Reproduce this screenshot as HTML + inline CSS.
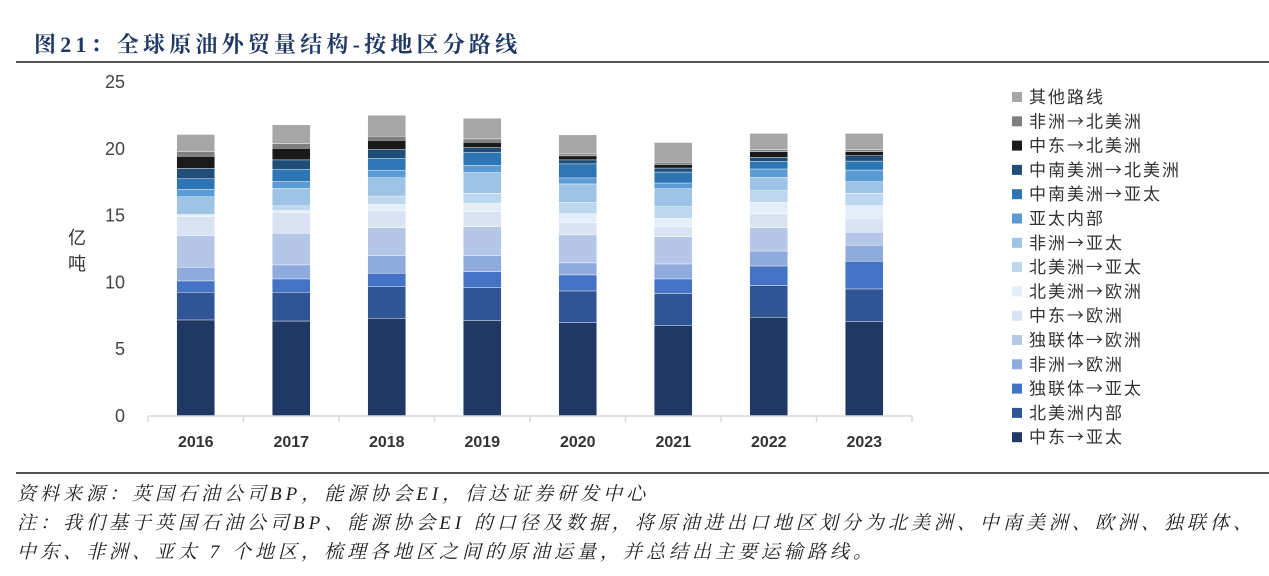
<!DOCTYPE html>
<html><head><meta charset="utf-8">
<style>
html,body{margin:0;padding:0;background:#fff;}
body{width:1269px;height:576px;position:relative;overflow:hidden;font-family:"Liberation Sans","Noto Sans CJK SC",sans-serif;}
#title{position:absolute;left:34px;top:28px;font-size:22px;font-weight:bold;color:#1f3864;font-family:"Liberation Serif","Noto Serif CJK SC",serif;letter-spacing:4.2px;white-space:nowrap;}
.rule{position:absolute;left:16px;width:1253px;height:2px;background:#555;}
.foot{position:absolute;left:17px;font-size:19px;font-style:italic;color:#222;font-family:"Liberation Serif","Noto Serif CJK SC",serif;white-space:nowrap;letter-spacing:4px;}
</style></head><body>
<div id="title">图21：全球原油外贸量结构-按地区分路线</div>
<div class="rule" style="top:61px"></div>
<svg id="chart" width="1269" height="576" style="position:absolute;left:0;top:0"></svg>
<div class="rule" style="top:472px"></div>
<div class="foot" style="top:479px">资料来源：英国石油公司BP，能源协会EI，信达证券研发中心</div>
<div class="foot" style="top:508px">注：我们基于英国石油公司BP、能源协会EI 的口径及数据，将原油进出口地区划分为北美洲、中南美洲、欧洲、独联体、</div>
<div class="foot" style="top:537px">中东、非洲、亚太 7 个地区，梳理各地区之间的原油运量，并总结出主要运输路线。</div>
<script>
const years = ["2016","2017","2018","2019","2020","2021","2022","2023"];
const seriesNames = ["中东→亚太","北美洲内部","独联体→亚太","非洲→欧洲","独联体→欧洲","中东→欧洲","北美洲→欧洲","北美洲→亚太","非洲→亚太","亚太内部","中南美洲→亚太","中南美洲→北美洲","中东→北美洲","非洲→北美洲","其他路线"];
const s0 = [7.19,7.11,7.31,7.14,6.99,6.76,7.39,7.06];
const s1 = [2.07,2.15,2.37,2.47,2.37,2.40,2.37,2.45];
const s2 = [0.85,1.00,1.00,1.20,1.20,1.10,1.47,2.07];
const s3 = [1.03,1.05,1.32,1.20,0.90,1.12,1.12,1.20];
const s4 = [2.37,2.37,2.10,2.17,2.10,2.05,1.75,0.97];
const s5 = [1.40,1.55,1.27,1.12,0.92,0.75,1.05,1.05];
const s6 = [0.10,0.15,0.47,0.62,0.67,0.62,0.85,0.95];
const s7 = [0.10,0.35,0.62,0.75,0.85,0.87,0.87,0.92];
const s8 = [1.30,1.30,1.37,1.55,1.37,1.35,1.00,0.87];
const s9 = [0.55,0.52,0.57,0.55,0.45,0.42,0.62,0.87];
const s10 = [0.80,0.92,0.87,0.95,1.05,0.82,0.57,0.67];
const s11 = [0.77,0.70,0.67,0.37,0.30,0.30,0.30,0.40];
const s12 = [0.92,0.87,0.70,0.40,0.30,0.27,0.42,0.30];
const s13 = [0.35,0.35,0.30,0.25,0.15,0.17,0.17,0.17];
const s14 = [1.27,1.40,1.57,1.55,1.42,1.47,1.20,1.20];
const series = [s0,s1,s2,s3,s4,s5,s6,s7,s8,s9,s10,s11,s12,s13,s14];
const yTicks = [0,5,10,15,20,25];
const colors = ["#203864","#2f5597","#4472c4","#8faadc","#b4c7e7","#dae3f3","#e4eef8","#bdd7ee","#9dc3e6","#5b9bd5","#2e75b6","#1f4e79","#1a1a1a","#7f7f7f","#a6a6a6"];

const NS="http://www.w3.org/2000/svg";
const svg=document.getElementById('chart');
const x0=148, x1=912, y0=416, yTop=82, maxV=25;
const band=(x1-x0)/years.length, bw=38;
const yS=v=>y0-(v/maxV)*(y0-yTop);
const xC=i=>x0+band*(i+0.5);
function mk(t,a){const e=document.createElementNS(NS,t);for(const k in a)e.setAttribute(k,a[k]);svg.appendChild(e);return e;}

yTicks.forEach(t=>{
  const e=mk('text',{x:125,y:yS(t)+6,'text-anchor':'end','font-size':18,fill:'#444'});
  e.textContent=t;
  
  
});
const yt=mk('text',{x:77,y:244,'text-anchor':'middle','font-size':18,fill:'#333','font-family':'"Noto Sans CJK SC",sans-serif'});
yt.textContent='亿';


const yt2=mk('text',{x:77,y:270,'text-anchor':'middle','font-size':18,fill:'#333','font-family':'"Noto Sans CJK SC",sans-serif'});
yt2.textContent='吨';



years.forEach((yr,i)=>{
  let cum=0;
  series.forEach((s,k)=>{
    const v=s[i];
    const r=mk('rect',{x:xC(i)-bw/2,y:yS(cum+v),width:bw,height:yS(cum)-yS(cum+v),fill:colors[k],stroke:'#fff','stroke-width':0.4});
    
    
    cum+=v;
  });
  const l=mk('text',{x:xC(i),y:447,'text-anchor':'middle','font-size':16,'font-weight':'bold',fill:'#333'});
  l.textContent=yr;
  
  
});
const ax=mk('line',{x1:x0,y1:y0,x2:x1,y2:y0,stroke:'#d9d9d9','stroke-width':1.5});


for(let i=0;i<=years.length;i++){
  const t=mk('line',{x1:x0+band*i,y1:y0,x2:x0+band*i,y2:y0+6,stroke:'#d9d9d9','stroke-width':1.5});
  
  
}
for(let k=series.length-1;k>=0;k--){
  const idx=series.length-1-k;
  const y=97+idx*24.3;
  const g=mk('g',{});
  
  
  const r=document.createElementNS(NS,'rect');
  r.setAttribute('x',1012);r.setAttribute('y',y-5);r.setAttribute('width',10);r.setAttribute('height',10);r.setAttribute('fill',colors[k]);
  g.appendChild(r);
  const t=document.createElementNS(NS,'text');
  t.setAttribute('x',1029);t.setAttribute('y',y+6);t.setAttribute('font-size',17);t.setAttribute('fill','#333');
  t.setAttribute('letter-spacing','2');
  t.setAttribute('font-family','"Noto Sans CJK SC",sans-serif');
  t.textContent=seriesNames[k];
  g.appendChild(t);
}
</script>
</body></html>
